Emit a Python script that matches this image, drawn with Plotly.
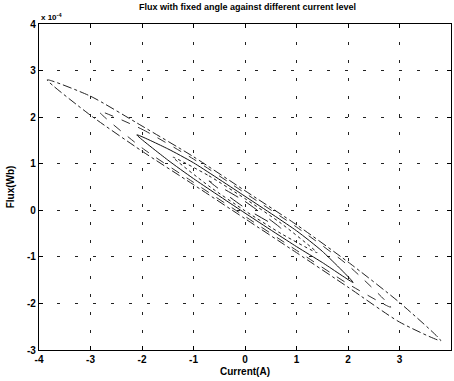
import plotly.graph_objects as go

# Flux values in units of 1e-4 Wb, current in A (closed loops)
loopA_x = [-3.84, -3.0, -2.0, -1.0, 0.0, 1.0, 2.0, 3.0, 3.8, 3.0, 2.0, 1.0, 0.0, -1.0, -2.0, -3.0, -3.84]
loopA_y = [2.80, 2.45, 1.81, 1.15, 0.42, -0.31, -1.11, -1.98, -2.80, -2.40, -1.65, -0.91, -0.18, 0.55, 1.27, 2.04, 2.80]

loopB_x = [-2.84, -2.0, -1.0, 0.0, 1.0, 2.0, 2.83, 2.0, 1.0, 0.0, -1.0, -2.0, -2.84]
loopB_y = [2.13, 1.74, 1.10, 0.37, -0.36, -1.18, -2.08, -1.58, -0.86, -0.13, 0.60, 1.34, 2.13]

loopC_x = [-2.1, -1.5, -1.0, 0.0, 1.0, 1.5, 2.1, 1.5, 1.0, 0.0, -1.0, -1.5, -2.1]
loopC_y = [1.62, 1.32, 1.02, 0.30, -0.44, -0.88, -1.55, -1.12, -0.78, -0.06, 0.68, 1.08, 1.62]

loopD_x = [-1.4, -0.7, 0.0, 0.7, 1.4, 0.7, 0.0, -0.7, -1.4]
loopD_y = [1.14, 0.74, 0.25, -0.28, -0.91, -0.50, -0.01, 0.52, 1.14]

loopE_x = [-0.7, 0.0, 0.7, 0.0, -0.7]
loopE_y = [0.63, 0.19, -0.39, 0.05, 0.63]

x_ticks = [-4, -3, -2, -1, 0, 1, 2, 3, 4]
y_ticks = [-3, -2, -1, 0, 1, 2, 3, 4]

fig = go.Figure()
series = [
    (loopA_x, loopA_y, "dashdot", "#222"),
    (loopB_x, loopB_y, "dash", "#333"),
    (loopC_x, loopC_y, "solid", "#111"),
    (loopD_x, loopD_y, "dot", "#222"),
    (loopE_x, loopE_y, "longdash", "#222"),
]
for xs, ys, dash, col in series:
    fig.add_trace(go.Scatter(x=xs, y=ys, mode="lines",
                             line=dict(color=col, width=1, dash=dash, shape="spline", smoothing=0.6),
                             showlegend=False, hoverinfo="skip"))

FAM = "Liberation Sans, Arial"
axis_common = dict(
    showline=True, linecolor="black", linewidth=1.2, mirror="allticks",
    ticks="inside", ticklen=4, tickcolor="black",
    showgrid=True, gridcolor="#222", gridwidth=1, griddash="3px,15px",
    zeroline=False, tickfont=dict(family=FAM, size=10, color="black"),
)
fig.update_xaxes(range=[-4, 4], tickvals=x_ticks, ticktext=[f"<b>{v}</b>" for v in x_ticks],
                 title=dict(text="<b>Current(A)</b>", font=dict(family=FAM, size=10, color="black"), standoff=3),
                 **axis_common)
fig.update_yaxes(range=[-3, 4], tickvals=y_ticks, ticktext=[f"<b>{v}</b>" for v in y_ticks],
                 title=dict(text="<b>Flux(Wb)</b>", font=dict(family=FAM, size=10, color="black"), standoff=10),
                 **axis_common)

fig.update_layout(
    width=454, height=381,
    margin=dict(l=39, r=3, t=24, b=31),
    paper_bgcolor="white", plot_bgcolor="white",
    font=dict(family=FAM, size=10, color="black"),
    title=dict(text="<b>Flux with fixed angle against different current level</b>",
               x=0.545, xanchor="center", y=0.99, yanchor="top",
               font=dict(family=FAM, size=9, color="black")),
    annotations=[dict(text="<b>x 10<sup>-4</sup></b>", xref="paper", yref="paper",
                      x=0.0, y=1.0, xanchor="left", yanchor="bottom", showarrow=False,
                      font=dict(family=FAM, size=8, color="black"))],
)
fig.write_html("out.html")
